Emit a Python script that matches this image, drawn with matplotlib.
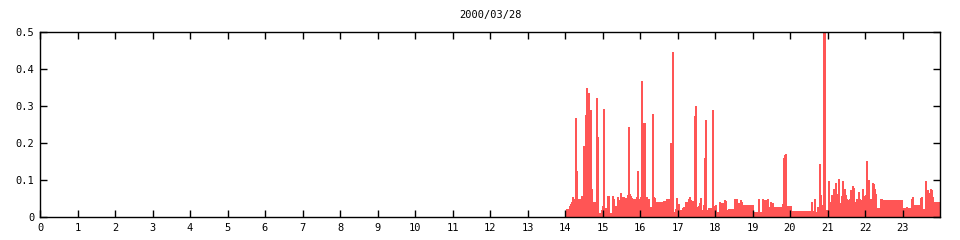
import numpy as np
import matplotlib
matplotlib.use("Agg")
import matplotlib.pyplot as plt

TITLE = "2000/03/28"
START_HOUR = 14.0          # first sample
STEP_HOURS = 1.6 / 60.0    # sampling interval (1.6 min)

# sample values, 14:00 -> 24:00 in consecutive chunks
VALS_A = [0.014, 0.022, 0.022, 0.019, 0.031, 0.035, 0.040, 0.055, 0.005, 0.050,
          0.268, 0.124, 0.019, 0.050, 0.046, 0.050, 0.058, 0.055, 0.193, 0.058,
          0.276, 0.350, 0.082, 0.334, 0.276, 0.289, 0.077, 0.040, 0.010, 0.041,
          0.041, 0.321, 0.216, 0.010, 0.010, 0.010, 0.019, 0.031, 0.292, 0.023,
          0.023, 0.023, 0.058, 0.058, 0.010, 0.012, 0.012, 0.058, 0.050, 0.031,
          0.022, 0.031, 0.055, 0.022, 0.046, 0.064, 0.055, 0.050, 0.055, 0.031,
          0.052, 0.040, 0.059, 0.244, 0.061, 0.058, 0.052, 0.049, 0.032, 0.049]
VALS_B = [0.050, 0.055, 0.124, 0.019, 0.050, 0.055, 0.368, 0.253, 0.064, 0.253,
          0.016, 0.055, 0.046, 0.050, 0.028, 0.028, 0.019, 0.278, 0.055, 0.052,
          0.040, 0.040, 0.040, 0.040, 0.040, 0.040, 0.040, 0.040, 0.044, 0.044,
          0.044, 0.048, 0.044, 0.050, 0.050, 0.199, 0.050, 0.447, 0.008, 0.013,
          0.022, 0.052, 0.032, 0.035, 0.019, 0.019, 0.019, 0.023, 0.028, 0.023,
          0.041, 0.022, 0.041, 0.049, 0.055, 0.046, 0.044, 0.044, 0.044, 0.273,
          0.300, 0.023, 0.028, 0.031, 0.037, 0.052, 0.012, 0.019, 0.032, 0.160,
          0.262, 0.014, 0.019, 0.023, 0.023]
VALS_C = [0.023, 0.023, 0.289, 0.028, 0.031, 0.032, 0.014, 0.014, 0.014, 0.040,
          0.014, 0.039, 0.037, 0.014, 0.046, 0.043, 0.019, 0.019, 0.022, 0.022,
          0.022, 0.022, 0.022, 0.022, 0.049, 0.046, 0.050, 0.022, 0.037, 0.031,
          0.046, 0.040, 0.032, 0.032, 0.032, 0.032, 0.032, 0.032, 0.032, 0.032,
          0.032, 0.032, 0.032, 0.014, 0.014, 0.014, 0.014, 0.014, 0.049, 0.014,
          0.014, 0.014, 0.050, 0.046, 0.046, 0.046, 0.046, 0.050, 0.026, 0.026,
          0.041, 0.026, 0.037, 0.026, 0.026, 0.026, 0.026, 0.026, 0.026, 0.026,
          0.026, 0.026, 0.035, 0.160, 0.168]
VALS_D = [0.170, 0.031, 0.031, 0.031, 0.031, 0.031, 0.013, 0.016, 0.016, 0.016,
          0.016, 0.016, 0.016, 0.013, 0.016, 0.013, 0.016, 0.016, 0.016, 0.016,
          0.016, 0.016, 0.016, 0.016, 0.016, 0.016, 0.041, 0.016, 0.014, 0.050,
          0.013, 0.010, 0.028, 0.010, 0.143, 0.059, 0.028, 0.032, 0.520, 0.520,
          0.016, 0.019, 0.019, 0.097, 0.040, 0.040, 0.059, 0.016, 0.077, 0.073,
          0.091, 0.062, 0.050, 0.103, 0.037, 0.037, 0.057, 0.097, 0.077, 0.075,
          0.059, 0.050, 0.046, 0.028, 0.048, 0.073, 0.050, 0.084, 0.079, 0.037,
          0.041, 0.049, 0.050, 0.068, 0.048, 0.046, 0.046]
VALS_E = [0.077, 0.016, 0.057, 0.059, 0.151, 0.016, 0.100, 0.049, 0.049, 0.049,
          0.093, 0.089, 0.075, 0.062, 0.025, 0.025, 0.025, 0.025, 0.050, 0.048,
          0.046, 0.046, 0.046, 0.046, 0.046, 0.046, 0.046, 0.046, 0.046, 0.046,
          0.046, 0.046, 0.046, 0.046, 0.046, 0.046, 0.046, 0.046, 0.046, 0.046,
          0.023, 0.023, 0.023, 0.023, 0.028, 0.023, 0.023, 0.023, 0.023, 0.050,
          0.053, 0.032, 0.032, 0.032, 0.031, 0.032, 0.032, 0.032, 0.052, 0.055,
          0.022, 0.022, 0.022, 0.097, 0.058, 0.073, 0.064, 0.037, 0.077, 0.073,
          0.055, 0.040, 0.040, 0.040, 0.040, 0.040, 0.040]

X_TICKS = list(range(24))
Y_TICKS = [0, 0.1, 0.2, 0.3, 0.4, 0.5]
Y_LABELS = ["0", "0.1", "0.2", "0.3", "0.4", "0.5"]
RED = "#ff5555"

vals = np.array(VALS_A + VALS_B + VALS_C + VALS_D + VALS_E)
hours = START_HOUR + np.arange(len(vals)) * STEP_HOURS

plt.rcParams.update({"font.family": "DejaVu Sans Mono", "font.size": 7.5})
fig = plt.figure(figsize=(9.6, 2.4), dpi=100)
ax = fig.add_axes([40 / 960, 23 / 240, 900 / 960, 185 / 240])

# one solid bar per sample; thin edge in the same colour so 1-px spikes stay opaque
ax.bar(hours, vals, width=STEP_HOURS, align="edge", color=RED,
       edgecolor=RED, linewidth=0.6, antialiased=False)

ax.set_xlim(0, 24)
ax.set_ylim(0, 0.5)
ax.set_xticks(X_TICKS)
ax.set_xticklabels([str(h) for h in X_TICKS])
ax.set_yticks(Y_TICKS)
ax.set_yticklabels(Y_LABELS)
ax.tick_params(direction="in", length=5, width=1, top=True, right=True, pad=4)
for s in ax.spines.values():
    s.set_linewidth(1)
    s.set_zorder(3)
ax.set_title(TITLE, fontsize=7.5, pad=10)

fig.savefig("out.png", dpi=100)
